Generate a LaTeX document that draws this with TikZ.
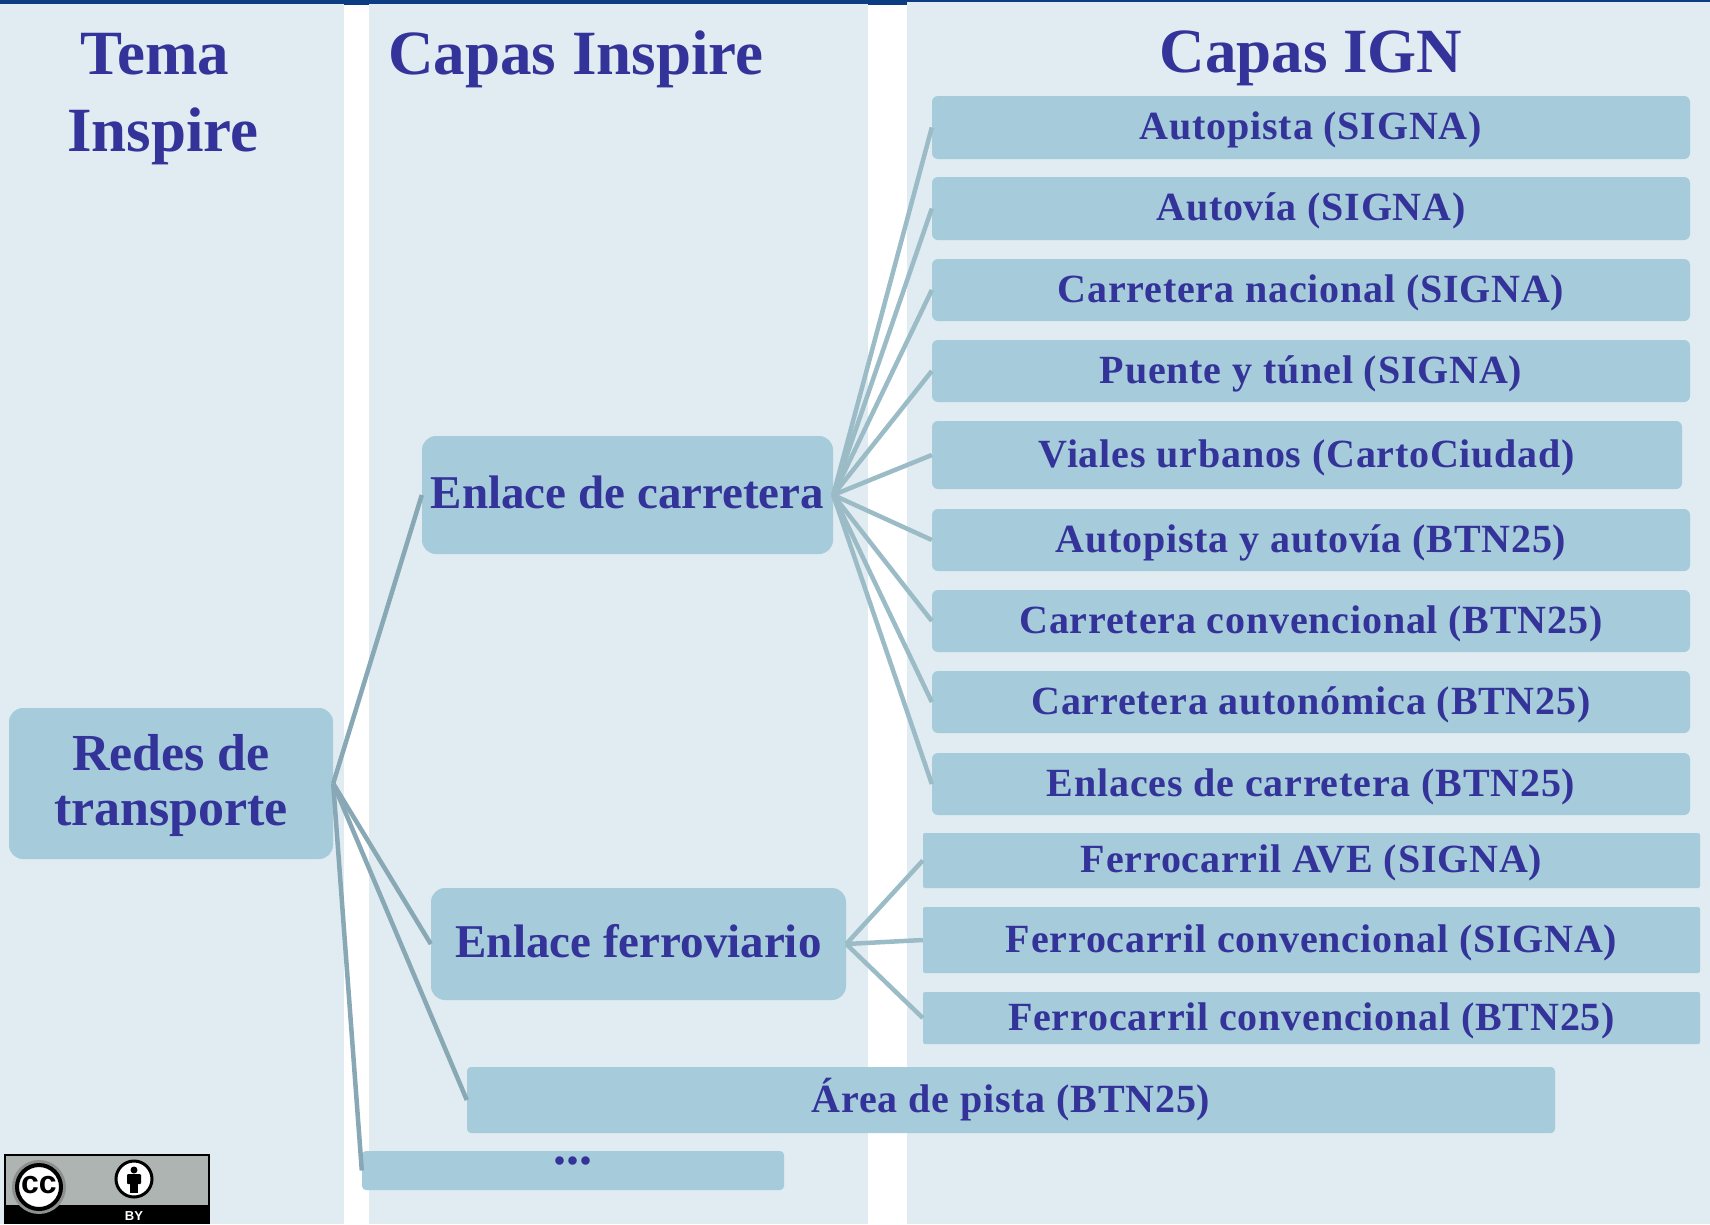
\documentclass[tikz,border=0pt]{standalone}
\usepackage{fontspec}
\setmainfont{Liberation Serif}
\newfontfamily\spaced[LetterSpace=2.0]{Liberation Serif}
\newfontfamily\sansbold{Liberation Sans}
\definecolor{panelc}{HTML}{E0ECF1}
\definecolor{boxc}{HTML}{A6CBDA}
\definecolor{inkc}{HTML}{333399}
\definecolor{linea}{HTML}{88A8B5}
\definecolor{lineb}{HTML}{9BBCC6}
\definecolor{stripc}{HTML}{0C3C82}
\definecolor{ccgrey}{HTML}{AEB4B1}
\tikzset{
  panel/.style={fill=panelc,draw=none},
  boxn/.style={fill=boxc,draw=none,rounded corners=#1,inner sep=0pt,text=inkc,text height=34pt,text depth=10pt,font=\spaced\bfseries\fontsize{40}{50}\selectfont,align=center},
  boxn/.default=6pt,
  bigb/.style={boxn=14pt,text height=38pt,text depth=12pt,font=\bfseries\fontsize{47}{54}\selectfont},
  bigt/.style={text=inkc,inner sep=0pt,anchor=base,font=\bfseries\fontsize{63}{70}\selectfont},
  lnka/.style={draw=linea,line width=4.5pt},
  lnkb/.style={draw=lineb,line width=4.5pt},
}
\newcommand{\bx}[7][]{\node[boxn,minimum width={#4-#2},minimum height={#5-#3},#1] (#6) at ({(#2+#4)/2},{(#3+#5)/2}) {#7};}
\begin{document}
\begin{tikzpicture}[x=1pt,y=-1pt]
\useasboundingbox (0,0) rectangle (1710,1224);
\fill[white] (0,0) rectangle (1710,1224);
\fill[stripc] (0,0) rectangle (907,5);
\fill[stripc] (907,0) rectangle (1710,2);
\fill[panel] (0,4) rectangle (344,1224);
\fill[panel] (369,4) rectangle (868,1224);
\fill[panel] (907,2) rectangle (1710,1224);
\node[bigt] (t1) at (155,74) {Tema};
\node[bigt] (t2) at (163,151) {Inspire};
\node[bigt] (t3) at (576,74) {Capas Inspire};
\node[bigt] (t4) at (1311,72) {Capas IGN};
\node[boxn=14pt,text height=,text depth=,minimum width=324pt,minimum height=151pt,font=\bfseries\fontsize{52}{54.5}\selectfont] (redes) at (171,783.5) {\rule{0pt}{40pt}Redes de\\transporte};
\bx[bigb]{422}{436}{833}{554}{carr}{Enlace de carretera}
\bx[bigb]{431}{888}{846}{1000}{ferr}{Enlace ferroviario}
\bx{932}{96}{1690}{159}{c1}{Autopista (SIGNA)}
\bx{932}{177}{1690}{240}{c2}{Autovía (SIGNA)}
\bx{932}{259}{1690}{321}{c3}{Carretera nacional (SIGNA)}
\bx{932}{340}{1690}{402}{c4}{Puente y túnel (SIGNA)}
\bx{932}{421}{1682}{489}{c5}{Viales urbanos (CartoCiudad)}
\bx{932}{509}{1690}{571}{c6}{Autopista y autovía (BTN25)}
\bx{932}{590}{1690}{652}{c7}{Carretera convencional (BTN25)}
\bx{932}{671}{1690}{733}{c8}{Carretera autonómica (BTN25)}
\bx{932}{753}{1690}{815}{c9}{Enlaces de carretera (BTN25)}
\bx[boxn=2pt]{923}{833}{1700}{888}{f1}{Ferrocarril AVE (SIGNA)}
\bx[boxn=2pt]{923}{907}{1700}{973}{f2}{Ferrocarril convencional (SIGNA)}
\bx[boxn=2pt]{923}{992}{1700}{1044}{f3}{Ferrocarril convencional (BTN25)}
\bx[boxn=4pt]{467}{1067}{1555}{1133}{area}{Área de pista (BTN25)}
\bx[boxn=4pt,text height=20pt,text depth=10pt,font=\bfseries\fontsize{52}{54}\selectfont]{362}{1151}{784}{1190}{more}{\smash{\raisebox{11.5pt}{...}}}
\foreach \n in {c1,c2,c3,c4,c5,c6,c7,c8,c9} \draw[lnkb] (carr.east) -- (\n.west);
\foreach \n in {f1,f2,f3} \draw[lnkb] (ferr.east) -- (\n.west);
\foreach \n in {carr,ferr,area,more} \draw[lnka] (redes.east) -- (\n.west);
% CC BY badge
\fill[black] (4,1154) rectangle (210,1224);
\fill[ccgrey] (6,1156) rectangle (208,1205);
\fill[ccgrey!80!black] (39,1187) circle (27);
\fill[white,draw=black,line width=4pt] (39,1187) circle (22);
\node[inner sep=0pt,font=\sansbold\bfseries\fontsize{32}{32}\selectfont] (cc) at (39,1185) {cc};
\fill[white,draw=black,line width=3pt] (134,1179) circle (18);
\fill[black] (134,1170) circle (3.5);
\fill[black,rounded corners=1pt] (127,1174) rectangle (141,1184);
\fill[black] (130,1184) rectangle (138,1193);
\node[inner sep=0pt,text=white,font=\sansbold\bfseries\fontsize{13}{13}\selectfont] (by) at (134,1216) {BY};
\end{tikzpicture}
\end{document}
